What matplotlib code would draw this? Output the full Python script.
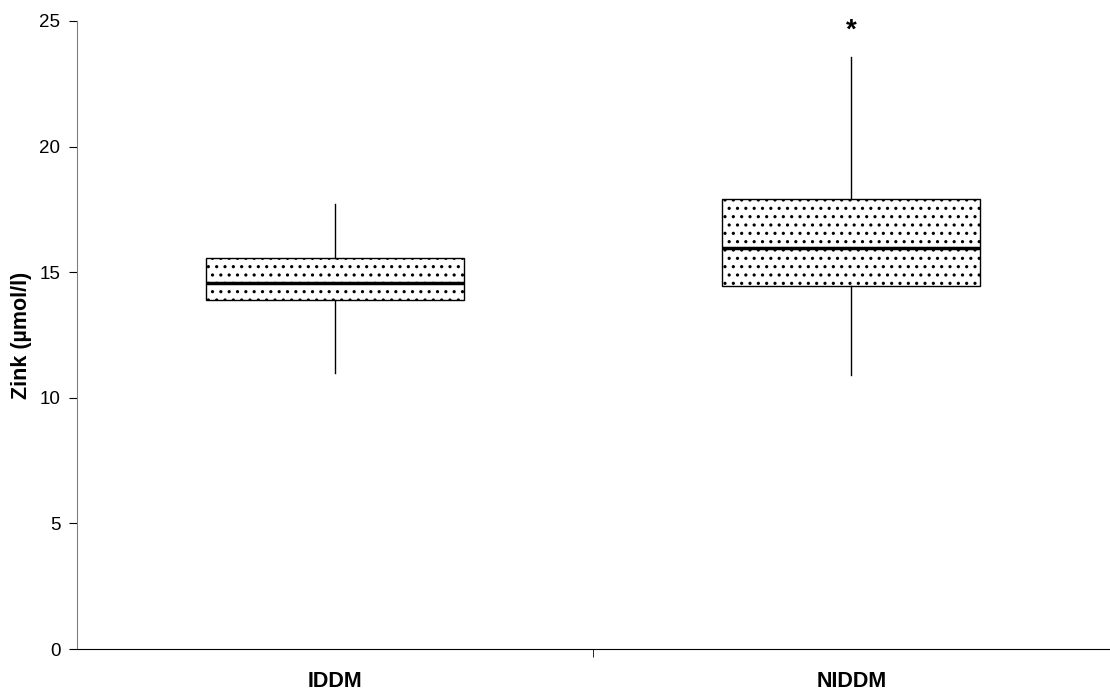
import matplotlib
matplotlib.use("Agg")
import matplotlib.pyplot as plt

plt.rcParams['font.family'] = ['Liberation Sans', 'DejaVu Sans']
plt.rcParams['hatch.linewidth'] = 1.1

groups = ['IDDM', 'NIDDM']
whisker_low = [11.0, 10.9]
q1 = [13.9, 14.45]
median = [14.57, 15.96]
q3 = [15.56, 17.92]
whisker_high = [17.7, 23.55]
signif = ['', '*']

stats = []
for i in range(len(groups)):
    stats.append(dict(label=groups[i], whislo=whisker_low[i], q1=q1[i], med=median[i],
                      q3=q3[i], whishi=whisker_high[i], fliers=[]))

fig = plt.figure(figsize=(11.1, 6.9), dpi=100)
ax = fig.add_axes([0.0694, 0.0594, 0.93, 0.9102])

positions = [0.5, 1.5]
bp = ax.bxp(stats, positions=positions, widths=0.5, showcaps=False, patch_artist=True,
            boxprops=dict(facecolor='white', edgecolor='black', linewidth=1.0, hatch='..'),
            medianprops=dict(color='black', linewidth=2.5),
            whiskerprops=dict(color='black', linewidth=1.0))

for p, s in zip(positions, signif):
    if s:
        ax.text(p, 24.1, s, ha='center', va='bottom', fontsize=20, fontweight='bold')

ax.set_xlim(0, 2)
ax.set_ylim(0, 25)
ax.set_yticks([0, 5, 10, 15, 20, 25])
ax.tick_params(axis='y', labelsize=13.5, length=6, pad=6, direction='out', color='black')
ax.set_xticks(positions)
ax.set_xticklabels(groups, fontsize=15.5, fontweight='bold')
ax.tick_params(axis='x', length=0, pad=16)
ax.set_xticks([1], minor=True)
ax.tick_params(axis='x', which='minor', length=6, direction='out')
ax.set_ylabel('Zink (µmol/l)', fontsize=15.5, fontweight='bold', labelpad=5)

ax.spines['top'].set_visible(False)
ax.spines['right'].set_visible(False)
ax.spines['left'].set_color('#808080')
ax.spines['bottom'].set_color('black')

fig.savefig('out.png', dpi=100)
